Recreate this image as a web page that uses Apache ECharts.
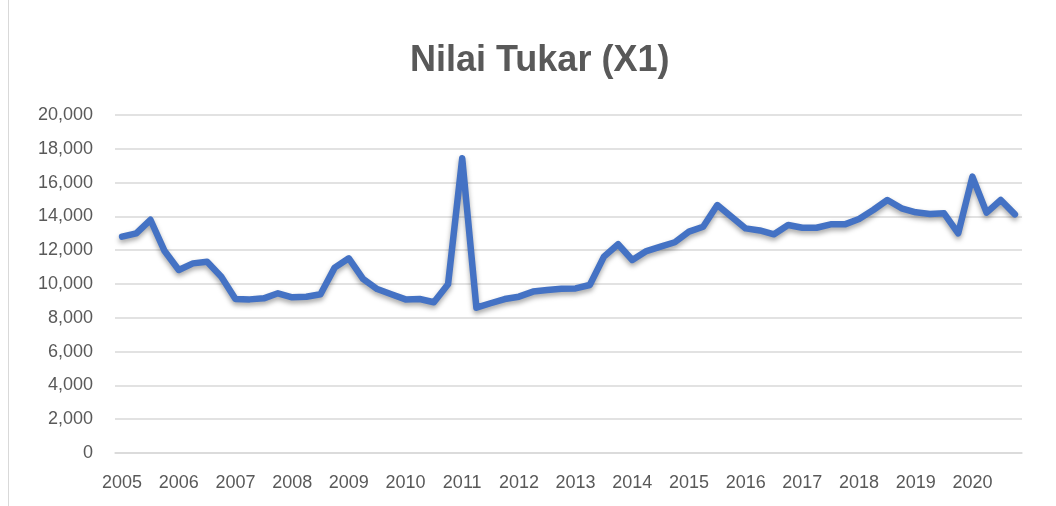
<!DOCTYPE html>
<html>
<head>
<meta charset="utf-8">
<script src="https://cdn.jsdelivr.net/npm/echarts@6/dist/echarts.min.js"></script>
<style>
  html, body { margin: 0; padding: 0; background: #fff; }
  #chart { width: 1056px; height: 506px; }
</style>
</head>
<body>
<div id="chart"></div>
<script>
// quarterly periods 2005 Q1 .. 2020 Q4
const years = ['2005', '2006', '2007', '2008', '2009', '2010', '2011', '2012',
  '2013', '2014', '2015', '2016', '2017', '2018', '2019', '2020']
const quarters = ['Q1', 'Q2', 'Q3', 'Q4']
const periods = years.flatMap(y => quarters.map(q => y + ' ' + q))

// exchange rate values
const nilaiTukar = [
  12800, 13000, 13800, 11950, 10830, 11220, 11320, 10430,
  9110, 9090, 9150, 9450, 9210, 9250, 9390, 10970,
  11520, 10300, 9700, 9390, 9090, 9110, 8920, 9980,
  17440, 8600, 8860, 9110, 9250, 9550, 9640, 9720,
  9740, 9940, 11620, 12350, 11420, 11950, 12210, 12470,
  13100, 13390, 14670, 13980, 13290, 13170, 12940, 13490,
  13330, 13330, 13530, 13530, 13850, 14380, 14970, 14480,
  14240, 14140, 14180, 13000, 16350, 14220, 14970, 14120
]

const yTicks = { min: 0, max: 20000, interval: 2000 }

const textColor = '#595959'
const gridColor = '#d9d9d9'
const fontFamily = '"Liberation Sans", Arial, sans-serif'

const chart = echarts.init(document.getElementById('chart'))
chart.setOption({
  animation: false,
  title: {
    text: 'Nilai Tukar (X1)',
    left: 405,
    top: 38,
    textStyle: { color: textColor, fontSize: 36, fontWeight: 'bold', fontFamily }
  },
  graphic: [{
    type: 'line',
    shape: { x1: 8.5, y1: 0, x2: 8.5, y2: 506 },
    style: { stroke: gridColor, lineWidth: 1 }
  }],
  grid: { left: 115, right: 34, top: 115, bottom: 53 },
  xAxis: {
    type: 'category',
    data: periods,
    boundaryGap: true,
    axisLine: { show: true, lineStyle: { color: gridColor, width: 1.5 } },
    axisTick: { show: false },
    axisLabel: {
      interval: 3,
      color: textColor,
      fontSize: 18,
      fontFamily,
      margin: 21,
      formatter: v => v.slice(0, 4)
    }
  },
  yAxis: {
    type: 'value',
    ...yTicks,
    axisLine: { show: false },
    axisTick: { show: false },
    splitLine: { lineStyle: { color: gridColor, width: 1.5 } },
    axisLabel: {
      color: textColor,
      fontSize: 18,
      fontFamily,
      margin: 22,
      formatter: v => v.toLocaleString('en-US')
    }
  },
  series: [{
    type: 'line',
    data: nilaiTukar,
    symbol: 'none',
    lineStyle: {
      color: '#4472C4',
      width: 6.5,
      shadowColor: 'rgba(0,0,0,0.35)',
      shadowBlur: 5,
      shadowOffsetY: 3,
      cap: 'round',
      join: 'round'
    }
  }]
})
</script>
</body>
</html>
